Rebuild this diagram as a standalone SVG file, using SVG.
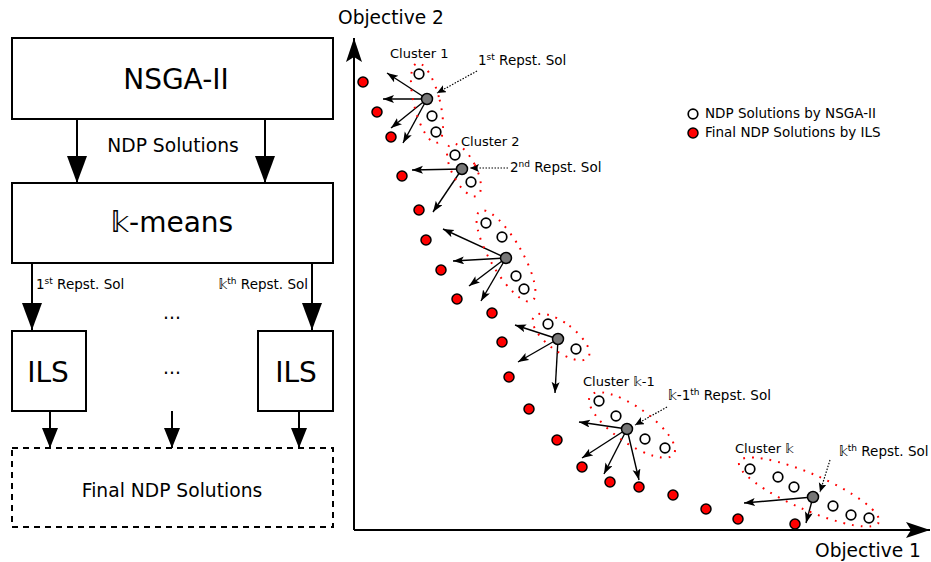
<svg xmlns="http://www.w3.org/2000/svg" width="931" height="562" viewBox="0 0 931 562">
<defs>
<style>
text{font-family:"DejaVu Sans","Noto Sans",sans-serif;fill:#000}
.box{fill:#fff;stroke:#000;stroke-width:2}
.dash{fill:none;stroke:#000;stroke-width:2;stroke-dasharray:6 5}
.big{font-size:28px;text-anchor:middle}
.mid{font-size:18.7px;text-anchor:middle}
.sm{font-size:13.5px}
.cl{font-size:13px}
.ln{stroke:#000;stroke-width:2;fill:none}
.thin{stroke:#000;stroke-width:1.4;fill:none}
.dot{stroke:#000;stroke-width:1.2;fill:none;stroke-dasharray:1.5 1.5}
.ell{fill:none;stroke:#f00;stroke-width:2;stroke-dasharray:1.8 7}
.red{fill:#f00;stroke:#000;stroke-width:1.5}
.wht{fill:#fff;stroke:#000;stroke-width:1.7}
.gry{fill:#777;stroke:#000;stroke-width:1.5}
</style>
<marker id="mBig" markerUnits="userSpaceOnUse" markerWidth="28" markerHeight="22" refX="27" refY="10" orient="auto"><path d="M0,0 L27,10 L0,20 z" fill="#000"/></marker>
<marker id="mMid" markerUnits="userSpaceOnUse" markerWidth="22" markerHeight="18" refX="20" refY="8" orient="auto"><path d="M0,0 L20,8 L0,16 z" fill="#000"/></marker>
<marker id="mAx" markerUnits="userSpaceOnUse" markerWidth="26" markerHeight="18" refX="24" refY="8" orient="auto"><path d="M0,0 L24,8 L0,16 L5,8 z" fill="#000"/></marker>
<marker id="mSm" markerUnits="userSpaceOnUse" markerWidth="12" markerHeight="10" refX="11" refY="4" orient="auto"><path d="M0,0 L11,4 L0,8 L2.5,4 z" fill="#000"/></marker>
<marker id="mDot" markerUnits="userSpaceOnUse" markerWidth="10" markerHeight="9" refX="9" refY="4" orient="auto"><path d="M0,0 L9,4 L0,8 L2,4 z" fill="#000"/></marker>
</defs>
<rect width="931" height="562" fill="#fff"/>

<g id="connectors">
<line class="ln" x1="77" y1="119" x2="77" y2="183" marker-end="url(#mBig)"/>
<line class="ln" x1="265" y1="119" x2="265" y2="183" marker-end="url(#mBig)"/>
<line class="ln" x1="32" y1="263" x2="32" y2="330" marker-end="url(#mBig)"/>
<line class="ln" x1="312" y1="263" x2="312" y2="330" marker-end="url(#mBig)"/>
<line class="ln" x1="50" y1="411" x2="50" y2="448" marker-end="url(#mMid)"/>
<line class="ln" x1="172" y1="411" x2="172" y2="448" marker-end="url(#mMid)"/>
<line class="ln" x1="299" y1="411" x2="299" y2="448" marker-end="url(#mMid)"/>
<!-- cluster arrows -->
<line class="thin" x1="427" y1="99" x2="387" y2="73" marker-end="url(#mSm)"/>
<line class="thin" x1="427" y1="99" x2="383" y2="99" marker-end="url(#mSm)"/>
<line class="thin" x1="427" y1="99" x2="391" y2="128" marker-end="url(#mSm)"/>
<line class="thin" x1="427" y1="99" x2="403" y2="143" marker-end="url(#mSm)"/>
<line class="thin" x1="462" y1="169" x2="412" y2="170" marker-end="url(#mSm)"/>
<line class="thin" x1="462" y1="169" x2="433" y2="212" marker-end="url(#mSm)"/>
<line class="thin" x1="506" y1="258" x2="443" y2="229" marker-end="url(#mSm)"/>
<line class="thin" x1="506" y1="258" x2="453" y2="261" marker-end="url(#mSm)"/>
<line class="thin" x1="506" y1="258" x2="469" y2="286" marker-end="url(#mSm)"/>
<line class="thin" x1="506" y1="258" x2="481" y2="301" marker-end="url(#mSm)"/>
<line class="thin" x1="558" y1="339" x2="515" y2="325" marker-end="url(#mSm)"/>
<line class="thin" x1="558" y1="339" x2="518" y2="362" marker-end="url(#mSm)"/>
<line class="thin" x1="558" y1="339" x2="555" y2="393" marker-end="url(#mSm)"/>
<line class="thin" x1="627" y1="429" x2="579" y2="422" marker-end="url(#mSm)"/>
<line class="thin" x1="627" y1="429" x2="582" y2="458" marker-end="url(#mSm)"/>
<line class="thin" x1="627" y1="429" x2="604" y2="474" marker-end="url(#mSm)"/>
<line class="thin" x1="627" y1="429" x2="639" y2="480" marker-end="url(#mSm)"/>
<line class="thin" x1="813" y1="497" x2="744" y2="503" marker-end="url(#mSm)"/>
<line class="thin" x1="813" y1="497" x2="806" y2="523" marker-end="url(#mSm)"/>
<!-- annotation arrows -->
<line class="dot" x1="477" y1="71" x2="437" y2="93" marker-end="url(#mDot)"/>
<line class="dot" x1="508" y1="168" x2="470" y2="168" marker-end="url(#mDot)"/>
<line class="dot" x1="667" y1="407" x2="635" y2="425" marker-end="url(#mDot)"/>
<line class="dot" x1="830" y1="460" x2="820" y2="492" marker-end="url(#mDot)"/>
</g>

<g id="nsga"><rect class="box" x="12" y="38" width="321" height="81"/><text class="big" x="176" y="89">NSGA-II</text></g>
<g id="ndp-label"><text class="mid" x="173" y="152">NDP Solutions</text></g>
<g id="kmeans"><rect class="box" x="12" y="183" width="321" height="80"/><text class="big" x="172" y="232">&#x1D55C;-means</text></g>
<g id="rep-labels">
<text class="sm" x="36" y="289">1<tspan font-size="9" dy="-5">st</tspan><tspan dy="5"> Repst. Sol</tspan></text>
<text class="sm" x="308" y="289" text-anchor="end">&#x1D55C;<tspan font-size="9" dy="-5">th</tspan><tspan dy="5"> Repst. Sol</tspan></text>
<text class="mid" x="172" y="319">...</text>
<text class="mid" x="172" y="374">...</text>
</g>
<g id="ils1"><rect class="box" x="12" y="331" width="74" height="80"/><text class="big" x="48" y="382">ILS</text></g>
<g id="ils2"><rect class="box" x="258" y="331" width="75" height="80"/><text class="big" x="296" y="382">ILS</text></g>
<g id="final"><rect class="dash" x="12" y="448" width="321" height="79"/><text class="mid" x="172" y="497">Final NDP Solutions</text></g>

<g id="axes">
<line class="ln" x1="354" y1="530" x2="354" y2="38" marker-end="url(#mAx)"/>
<line class="ln" x1="354" y1="530" x2="930" y2="530" marker-end="url(#mAx)"/>
<text x="338" y="24" font-size="18.6">Objective 2</text>
<text x="815" y="557" font-size="18.6">Objective 1</text>
</g>

<g id="ellipses">
<ellipse class="ell" cx="427" cy="103" rx="13" ry="41" transform="rotate(-14 427 103)"/>
<ellipse class="ell" cx="464" cy="170" rx="12" ry="29" transform="rotate(-27 464 170)"/>
<ellipse class="ell" cx="506" cy="256" rx="16" ry="52" transform="rotate(-30 506 256)"/>
<ellipse class="ell" cx="561" cy="337" rx="14" ry="34" transform="rotate(-53 561 337)"/>
<ellipse class="ell" cx="632" cy="425" rx="18" ry="51" transform="rotate(-55 632 425)"/>
<ellipse class="ell" cx="809" cy="492" rx="76" ry="18" transform="rotate(23.5 809 492)"/>
</g>

<g id="final-solutions">
<circle class="red" cx="363" cy="82" r="5"/>
<circle class="red" cx="377" cy="112" r="5"/>
<circle class="red" cx="391" cy="137" r="5"/>
<circle class="red" cx="402" cy="176" r="5"/>
<circle class="red" cx="419" cy="210" r="5"/>
<circle class="red" cx="426" cy="240" r="5"/>
<circle class="red" cx="441" cy="270" r="5"/>
<circle class="red" cx="457" cy="299" r="5"/>
<circle class="red" cx="492" cy="313" r="5"/>
<circle class="red" cx="502" cy="342" r="5"/>
<circle class="red" cx="509" cy="377" r="5"/>
<circle class="red" cx="529" cy="409" r="5"/>
<circle class="red" cx="557" cy="440" r="5"/>
<circle class="red" cx="582" cy="467" r="5"/>
<circle class="red" cx="610" cy="482" r="5"/>
<circle class="red" cx="639" cy="487" r="5"/>
<circle class="red" cx="673" cy="495" r="5"/>
<circle class="red" cx="706" cy="509" r="5"/>
<circle class="red" cx="738" cy="519" r="5"/>
<circle class="red" cx="795" cy="524" r="5"/>
</g>

<g id="cluster1">
<circle class="wht" cx="419" cy="74" r="4.8"/><circle class="wht" cx="432" cy="116" r="4.8"/><circle class="wht" cx="436" cy="132" r="4.8"/>
<circle class="gry" cx="427" cy="99" r="5.5"/>
<text class="cl" x="390" y="58">Cluster 1</text>
<text class="sm" x="478" y="65">1<tspan font-size="9" dy="-5">st</tspan><tspan dy="5"> Repst. Sol</tspan></text>
</g>
<g id="cluster2">
<circle class="wht" cx="455" cy="155" r="4.8"/><circle class="wht" cx="471" cy="182" r="4.8"/>
<circle class="gry" cx="462" cy="169" r="5.5"/>
<text class="cl" x="461" y="146">Cluster 2</text>
<text class="sm" x="510" y="172">2<tspan font-size="9" dy="-5">nd</tspan><tspan dy="5"> Repst. Sol</tspan></text>
</g>
<g id="cluster3">
<circle class="wht" cx="486" cy="223" r="4.8"/><circle class="wht" cx="502" cy="237" r="4.8"/><circle class="wht" cx="516" cy="276" r="4.8"/><circle class="wht" cx="524" cy="289" r="4.8"/>
<circle class="gry" cx="506" cy="258" r="5.5"/>
</g>
<g id="cluster4">
<circle class="wht" cx="548" cy="324" r="4.8"/><circle class="wht" cx="576" cy="349" r="4.8"/>
<circle class="gry" cx="558" cy="339" r="5.5"/>
</g>
<g id="cluster-k-1">
<circle class="wht" cx="599" cy="401" r="4.8"/><circle class="wht" cx="616" cy="416" r="4.8"/><circle class="wht" cx="645" cy="439" r="4.8"/><circle class="wht" cx="665" cy="448" r="4.8"/>
<circle class="gry" cx="627" cy="429" r="5.5"/>
<text class="cl" x="583" y="386">Cluster &#x1D55C;-1</text>
<text class="sm" x="668" y="400">&#x1D55C;-1<tspan font-size="9" dy="-5">th</tspan><tspan dy="5"> Repst. Sol</tspan></text>
</g>
<g id="cluster-k">
<circle class="wht" cx="750" cy="469" r="4.8"/><circle class="wht" cx="778" cy="477" r="4.8"/><circle class="wht" cx="794" cy="487" r="4.8"/><circle class="wht" cx="833" cy="506" r="4.8"/><circle class="wht" cx="851" cy="515" r="4.8"/><circle class="wht" cx="869" cy="518" r="4.8"/>
<circle class="gry" cx="813" cy="497" r="5.5"/>
<text class="cl" x="735" y="453">Cluster &#x1D55C;</text>
<text class="sm" x="839" y="456">&#x1D55C;<tspan font-size="9" dy="-5">th</tspan><tspan dy="5"> Repst. Sol</tspan></text>
</g>

<g id="legend">
<circle class="wht" cx="693" cy="114" r="4.8"/>
<text class="sm" x="705" y="118">NDP Solutions by NSGA-II</text>
<circle class="red" cx="693" cy="133" r="5"/>
<text class="sm" x="705" y="137">Final NDP Solutions by ILS</text>
</g>
</svg>
